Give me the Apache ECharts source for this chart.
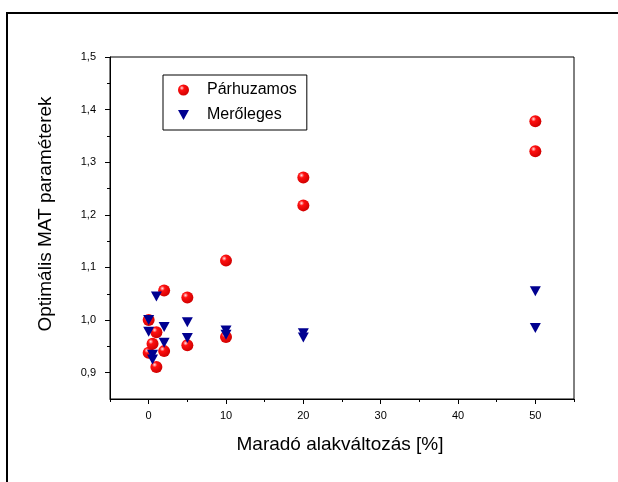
<!DOCTYPE html>
<html lang="hu">
<head>
    <meta charset="UTF-8">
    <title>Optimális MAT paraméterek</title>
    <script src="https://cdn.jsdelivr.net/npm/echarts@6.0.0/dist/echarts.min.js"></script>
    <style>
        html, body { margin: 0; padding: 0; background: #fff; }
        #chart { width: 618px; height: 482px; }
    </style>
</head>
<body>
<div id="chart"></div>

<script type="text/javascript">
    // Párhuzamos (red spheres)
    var parX = [0, 0, 0.5, 1, 1, 2, 2, 5, 5, 10, 10, 20, 20, 50, 50];
    var parY = [1.000, 0.938, 0.955, 0.977, 0.911, 1.056, 0.941, 1.043, 0.952, 1.113, 0.968, 1.271, 1.218, 1.378, 1.321];
    // Merőleges (blue triangles)
    var merX = [0, 0, 0.5, 0.5, 1, 2, 2, 5, 5, 10, 10, 20, 20, 50, 50];
    var merY = [1.000, 0.978, 0.934, 0.925, 1.045, 0.987, 0.957, 0.996, 0.966, 0.980, 0.972, 0.975, 0.967, 1.055, 0.985];

    var seriesNames = ['Párhuzamos', 'Merőleges'];
    var xMajor = [0, 10, 20, 30, 40, 50];
    var xMinor = [-5, 5, 15, 25, 35, 45, 55];
    var yMajor = [0.9, 1.0, 1.1, 1.2, 1.3, 1.4, 1.5];
    var yMinor = [0.95, 1.05, 1.15, 1.25, 1.35, 1.45];

    var xTitle = 'Maradó alakváltozás [%]';
    var yTitle = 'Optimális MAT paraméterek';

    function pairs(xs, ys) {
        var out = [];
        for (var i = 0; i < xs.length; i++) out.push([xs[i], ys[i]]);
        return out;
    }

    var font = "'Liberation Sans', Arial, sans-serif";
    var sphere = {
        type: 'radial', x: 0.35, y: 0.32, r: 0.7,
        colorStops: [
            {offset: 0, color: '#ffe6e6'},
            {offset: 0.3, color: '#ff1010'},
            {offset: 1, color: '#d00000'}
        ]
    };
    var downTriangle = 'path://M0,0L10,0L5,9Z';

    var chart = echarts.init(document.getElementById('chart'));
    var option = {
        animation: false,
        backgroundColor: '#fff',
        grid: {
            left: 110, right: 44, top: 57, bottom: 83,
            show: true, borderColor: '#000', borderWidth: 1
        },
        legend: {
            left: 163, top: 75,
            orient: 'vertical',
            padding: [7, 10, 7, 15],
            itemWidth: 11, itemHeight: 12, itemGap: 9,
            borderColor: '#000', borderWidth: 1,
            textStyle: {fontFamily: font, fontSize: 16, color: '#000', padding: [0, 0, 0, 13]},
            data: [
                {name: seriesNames[0], icon: 'circle'},
                {name: seriesNames[1], icon: downTriangle}
            ]
        },
        xAxis: [
            {
                type: 'value', min: -5, max: 55,
                axisLine: {onZero: false, lineStyle: {color: '#000', width: 1}},
                axisTick: {inside: false, length: 5, lineStyle: {color: '#000'}, customValues: xMajor},
                axisLabel: {margin: 11, fontFamily: font, fontSize: 11, color: '#000', customValues: xMajor},
                splitLine: {show: false}
            },
            {
                type: 'value', min: -5, max: 55, position: 'bottom',
                axisLine: {show: false, onZero: false},
                axisTick: {inside: false, length: 3, lineStyle: {color: '#000'}, customValues: xMinor},
                axisLabel: {show: false},
                splitLine: {show: false}
            }
        ],
        yAxis: [
            {
                type: 'value', min: 0.85, max: 1.5,
                axisLine: {show: true, onZero: false, lineStyle: {color: '#000', width: 1}},
                axisTick: {show: true, inside: false, length: 5, lineStyle: {color: '#000'}, customValues: yMajor},
                axisLabel: {
                    margin: 14, fontFamily: font, fontSize: 11, color: '#000', customValues: yMajor,
                    formatter: function (v) { return v.toFixed(1).replace('.', ','); }
                },
                splitLine: {show: false}
            },
            {
                type: 'value', min: 0.85, max: 1.5, position: 'left',
                axisLine: {show: false, onZero: false},
                axisTick: {show: true, inside: false, length: 3, lineStyle: {color: '#000'}, customValues: yMinor},
                axisLabel: {show: false},
                splitLine: {show: false}
            }
        ],
        series: [
            {
                name: seriesNames[0],
                type: 'scatter',
                symbol: 'circle',
                symbolSize: 12,
                itemStyle: {color: sphere, opacity: 1},
                data: pairs(parX, parY)
            },
            {
                name: seriesNames[1],
                type: 'scatter',
                symbol: 'triangle',
                symbolRotate: 180,
                symbolSize: [11, 10],
                itemStyle: {color: '#000090', opacity: 1},
                data: pairs(merX, merY)
            }
        ],
        graphic: [
            {
                type: 'rect', silent: true,
                shape: {x: 7, y: 13, width: 700, height: 600},
                style: {fill: 'none', stroke: '#000', lineWidth: 2}
            },
            {
                type: 'text', silent: true, x: 340, y: 445,
                style: {text: xTitle, font: '19px ' + font, fill: '#000', align: 'center', verticalAlign: 'middle'}
            },
            {
                type: 'text', silent: true, x: 46, y: 214, rotation: Math.PI / 2,
                style: {text: yTitle, font: '19px ' + font, fill: '#000', align: 'center', verticalAlign: 'middle'}
            }
        ]
    };
    chart.setOption(option);
</script>

</body>
</html>
